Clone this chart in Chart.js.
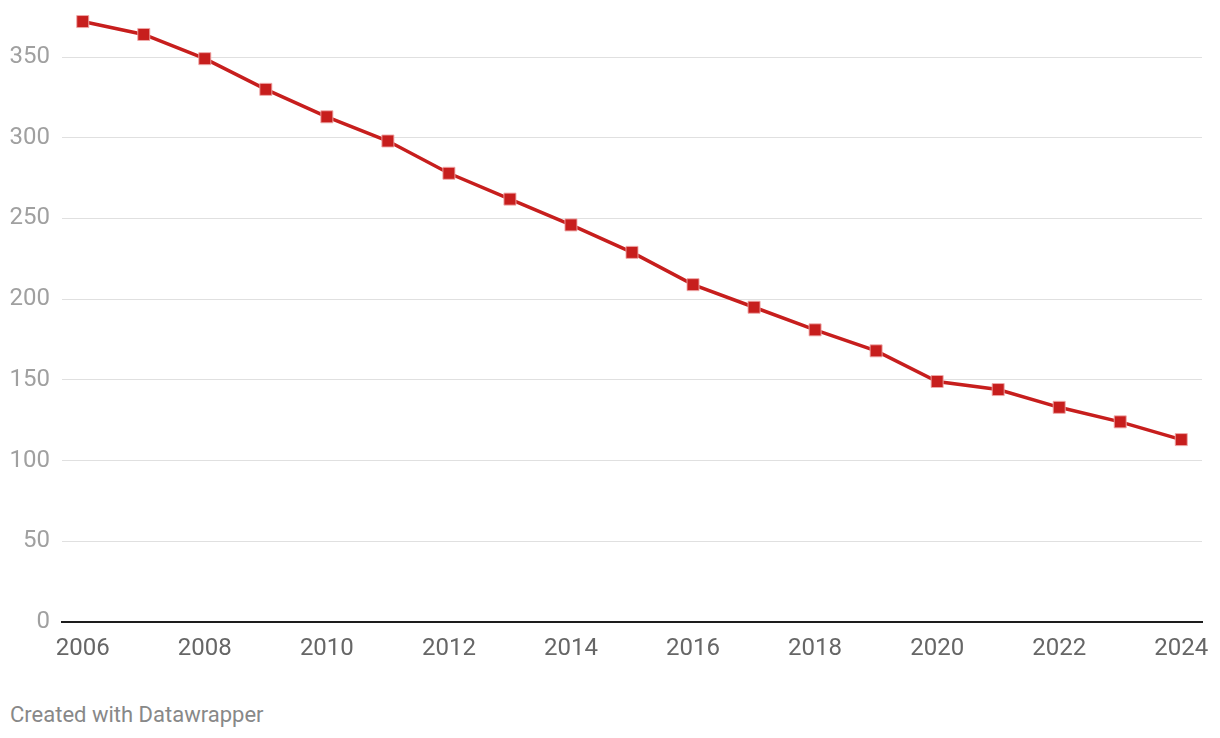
<!DOCTYPE html>
<html>
<head>
<meta charset="utf-8">
<script src="https://cdn.jsdelivr.net/npm/chart.js@4"></script>
<style>
    html, body { margin: 0; padding: 0; background: #fff; }
    #wrap { position: relative; width: 1220px; height: 671px; }
    #footer {
        position: absolute; left: 10px; top: 702px;
        font-family: Roboto, sans-serif; font-size: 22px; color: #888;
    }
</style>
</head>
<body>
<div id="wrap"><canvas id="chart"></canvas></div>
<div id="footer">Created with Datawrapper</div>
<script>
const years = [2006, 2007, 2008, 2009, 2010, 2011, 2012, 2013, 2014, 2015,
    2016, 2017, 2018, 2019, 2020, 2021, 2022, 2023, 2024];
const values = [372, 364, 349, 330, 313, 298, 278, 262, 246, 229,
    209, 195, 181, 168, 149, 144, 133, 124, 113];
const xTicks = [2006, 2008, 2010, 2012, 2014, 2016, 2018, 2020, 2022, 2024];
const yTicks = [0, 50, 100, 150, 200, 250, 300, 350];

const red = '#c71e1d';

new Chart(document.getElementById('chart').getContext('2d'), {
    type: 'line',
    data: {
        datasets: [{
            data: years.map((y, i) => ({ x: y, y: values[i] })),
            borderColor: red,
            borderWidth: 3.5,
            pointStyle: 'rect',
            pointRadius: 8.5,
            pointBackgroundColor: red,
            pointBorderColor: 'rgba(240,170,170,0.9)',
            pointBorderWidth: 1,
            tension: 0,
            fill: false,
            clip: false,
        }],
    },
    options: {
        responsive: true,
        maintainAspectRatio: false,
        animation: false,
        layout: { padding: { top: 0, right: 18, left: 0, bottom: 0 } },
        plugins: { legend: { display: false }, tooltip: { enabled: false } },
        scales: {
            x: {
                type: 'linear',
                min: 2005.66,
                max: 2024.34,
                afterBuildTicks: scale => { scale.ticks = xTicks.map(v => ({ value: v })); },
                afterFit: scale => {
                    scale.height = 49;
                    scale.paddingRight = 0;
                    scale.paddingLeft = 0;
                },
                grid: { display: false, drawTicks: false },
                border: { display: true, color: '#1d1d1d', width: 2 },
                ticks: {
                    padding: 13,
                    color: '#666',
                    font: { family: 'Roboto', size: 24 },
                    maxRotation: 0,
                    callback: v => String(v),
                },
            },
            y: {
                min: 0,
                max: 369,
                afterBuildTicks: scale => { scale.ticks = yTicks.map(v => ({ value: v })); },
                afterFit: scale => { scale.width = 62; },
                grid: { color: '#e0e0e0', lineWidth: 1, drawTicks: false },
                border: { display: false },
                ticks: {
                    padding: 12,
                    color: '#a0a0a0',
                    font: { family: 'Roboto', size: 24 },
                },
            },
        },
    },
});
</script>
</body>
</html>
